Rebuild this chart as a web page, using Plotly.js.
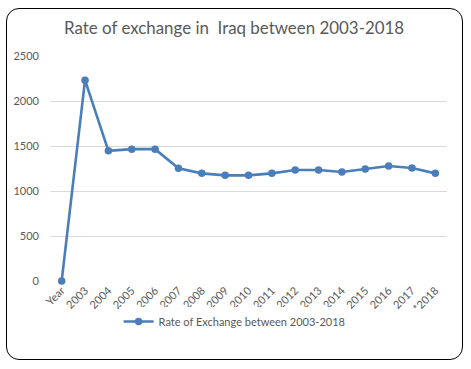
<!DOCTYPE html>
<html>
<head>
<meta charset="utf-8">
<script src="https://cdn.plot.ly/plotly-3.0.1.min.js"></script>
<style>
html,body{margin:0;padding:0;background:#fff;}
#wrap{position:relative;width:471px;height:369px;}
#frame{position:absolute;left:6px;top:8px;width:455px;height:350px;border:1px solid #000;border-radius:13px;pointer-events:none;z-index:5;}
#chart{position:absolute;left:0;top:0;width:471px;height:369px;}
</style>
</head>
<body>
<div id="wrap">
<div id="chart"></div>
<div id="frame"></div>
</div>
<script>
const categories = ["Year","2003","2004","2005","2006","2007","2008","2009","2010","2011","2012","2013","2014","2015","2016","2017","*2018"];
const rates = [0, 2231, 1446, 1465, 1465, 1252, 1196, 1174, 1174, 1196, 1233, 1233, 1211, 1244, 1278, 1256, 1196];
const seriesName = "Rate of Exchange between 2003-2018";
const chartTitle = "Rate of exchange in  Iraq between 2003-2018";
const yTicks = [0, 500, 1000, 1500, 2000, 2500];

const font = "Lato, 'Open Sans', sans-serif";
const trace = {
  x: categories,
  y: rates,
  type: "scatter",
  mode: "lines+markers",
  name: seriesName,
  cliponaxis: false,
  line: {color: "#4a7ebb", width: 2.6},
  marker: {color: "#4a7ebb", size: 7.5}
};
const layout = {
  width: 471, height: 369,
  margin: {l: 50, r: 24, t: 56, b: 88},
  paper_bgcolor: "#fff", plot_bgcolor: "#fff",
  font: {family: font, color: "#595959", size: 11},
  title: {text: chartTitle, font: {family: font, size: 16.9, color: "#595959"}, x: 0.497, xanchor: "center", y: 0.923, yanchor: "middle"},
  showlegend: true,
  legend: {orientation: "h", x: 0.465, xanchor: "center", y: -0.18, yanchor: "middle", font: {size: 11, color: "#595959"}, itemwidth: 30},
  xaxis: {
    type: "category", range: [-0.5, 16.5], tickangle: -45,
    showgrid: false, zeroline: false, showline: false, ticks: "", tickfont: {size: 11, color: "#595959"}
  },
  yaxis: {
    range: [0, 2500], tickvals: yTicks, showgrid: true, gridcolor: "#d9d9d9", gridwidth: 1,
    zeroline: false, showline: false, ticks: "", ticklabelstandoff: 10, tickfont: {size: 11, color: "#595959"}
  }
};
Plotly.newPlot("chart", [trace], layout, {displayModeBar: false, staticPlot: true});
</script>
</body>
</html>
